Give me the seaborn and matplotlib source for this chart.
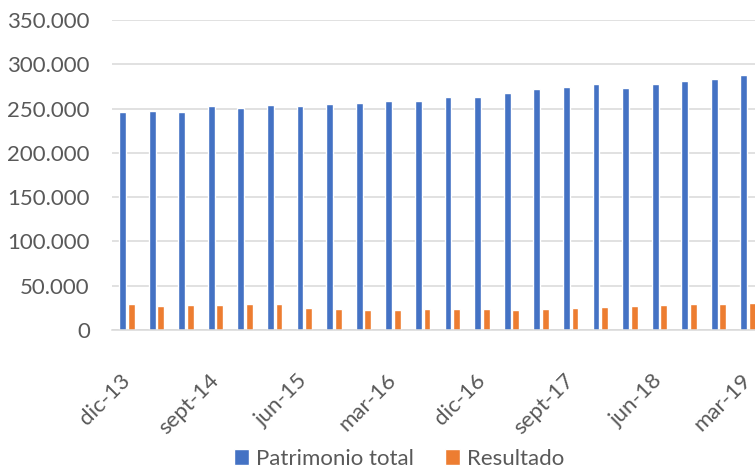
import pandas as pd
import numpy as np
import matplotlib
matplotlib.use('Agg')
import matplotlib.pyplot as plt
import seaborn as sns
from matplotlib.ticker import FuncFormatter

periodos = ['dic-13', 'mar-14', 'jun-14', 'sept-14', 'dic-14', 'mar-15', 'jun-15', 'sept-15',
            'dic-15', 'mar-16', 'jun-16', 'sept-16', 'dic-16', 'mar-17', 'jun-17', 'sept-17',
            'dic-17', 'mar-18', 'jun-18', 'sept-18', 'dic-18', 'mar-19']
patrimonio = [245800, 247600, 245800, 252900, 250600, 254000, 253200, 255200, 256300, 258200,
              258500, 263100, 263100, 267200, 271800, 274700, 277400, 273600, 277400, 281100,
              283400, 287900]
resultado = [29350, 26750, 28560, 27900, 29700, 29350, 24840, 23370, 22240, 22580, 23710,
             23370, 23710, 22240, 23710, 24500, 26000, 27100, 28560, 29350, 29700, 30500]
series = ['Patrimonio total', 'Resultado']
y_ticks = [0, 50000, 100000, 150000, 200000, 250000, 300000, 350000]

df = pd.DataFrame({'periodo': periodos * 2,
                   'valor': patrimonio + resultado,
                   'serie': [series[0]] * len(periodos) + [series[1]] * len(periodos)})

sns.set_theme(style='white')
plt.rcParams['font.family'] = ['Lato', 'DejaVu Sans']
GREY = '#595959'
GRID = '#D9D9D9'
FS = 16

fig = plt.figure(figsize=(7.55, 4.7), dpi=100)
ax = fig.add_axes([112 / 755, 140 / 470, 651 / 755, 310 / 470])

sns.barplot(data=df, x='periodo', y='valor', hue='serie', order=periodos, hue_order=series,
            palette=['#4472C4', '#ED7D31'], width=0.58, gap=0.2, saturation=1, ax=ax)

ax.set_xlim(-0.5, len(periodos) - 0.5)
ax.set_ylim(0, 350000)
ax.set_yticks(y_ticks)
ax.yaxis.set_major_formatter(FuncFormatter(lambda v, _: f'{v:,.0f}'.replace(',', '.')))
ax.grid(axis='y', color=GRID, lw=1.1)
ax.set_axisbelow(True)
for s in ['top', 'right', 'left']:
    ax.spines[s].set_visible(False)
ax.spines['bottom'].set_color(GRID)
ax.spines['bottom'].set_linewidth(1.1)

# etiquetas cada 3 trimestres, marcas entre categorias
lbl_idx = list(range(0, len(periodos), 3))
ax.set_xticks(lbl_idx)
ax.set_xticklabels([periodos[i] for i in lbl_idx], rotation=45, ha='right', va='center',
                   rotation_mode='anchor')
ax.set_xticks(np.arange(-0.5, len(periodos), 1), minor=True)
ax.tick_params(axis='x', which='major', length=0, pad=34, labelsize=FS, labelcolor=GREY)
ax.tick_params(axis='x', which='minor', length=6, width=1.1, color=GRID, direction='out')
ax.tick_params(axis='y', length=0, pad=16, labelsize=FS, labelcolor=GREY)
ax.set_xlabel('')
ax.set_ylabel('')

handles, labels = ax.get_legend_handles_labels()
ax.get_legend().remove()
fig.legend(handles, labels, loc='center', bbox_to_anchor=(399 / 755, 11 / 470), ncol=2,
           frameon=False, fontsize=FS, labelcolor=GREY, handlelength=0.7, handleheight=0.7,
           handletextpad=0.3, columnspacing=1.4)

plt.savefig('out.png', dpi=100)
plt.close()
